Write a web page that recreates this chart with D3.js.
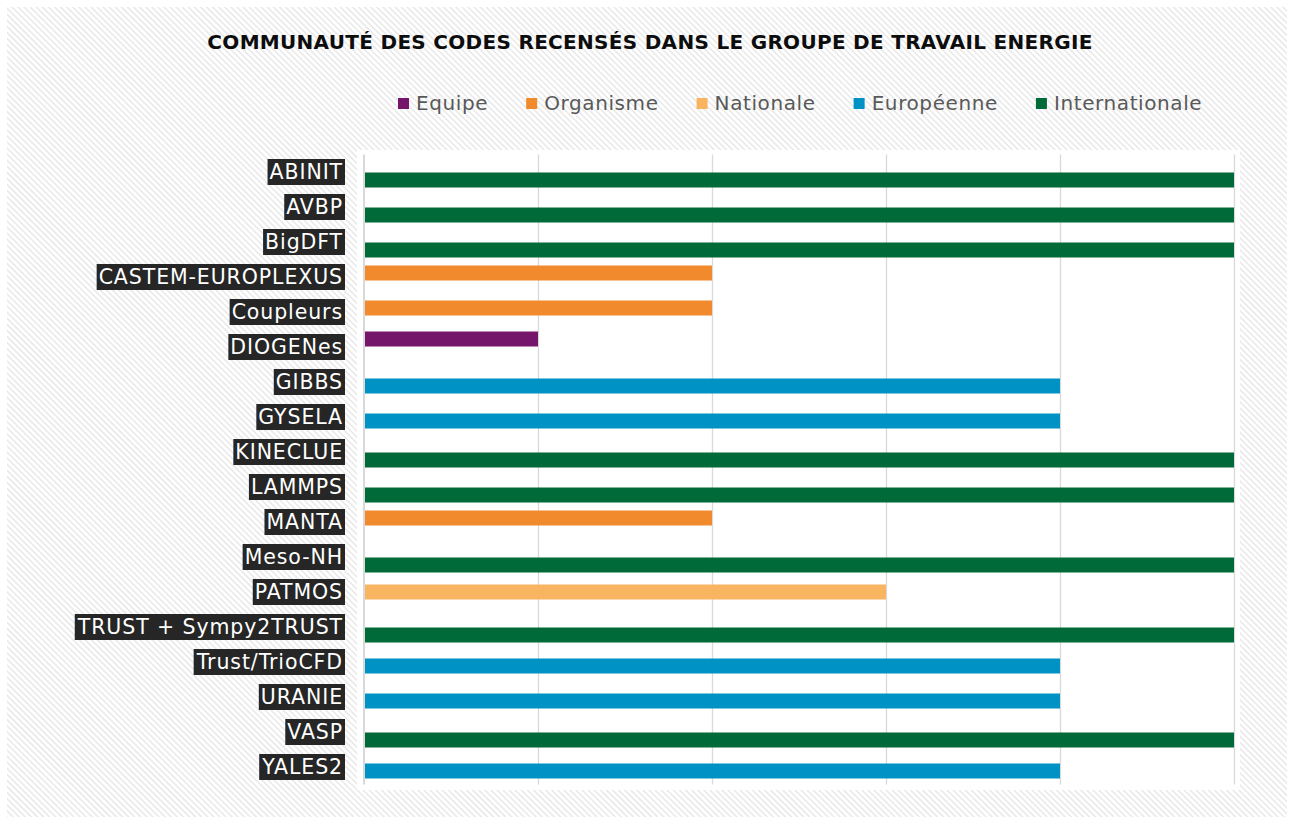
<!DOCTYPE html>
<html lang="fr">
<head>
<meta charset="UTF-8">
<title>Communauté des codes - Energie</title>
<script src="https://d3js.org/d3.v7.min.js"></script>
<style>
  body { margin: 0; background: #fff; }
  svg { display: block; font-family: "DejaVu Sans", sans-serif; }
</style>
</head>
<body>
<svg id="chart" width="1289" height="819"></svg>
<script>
// categories (top to bottom)
const categories = ["ABINIT", "AVBP", "BigDFT", "CASTEM-EUROPLEXUS", "Coupleurs", "DIOGENes",
  "GIBBS", "GYSELA", "KINECLUE", "LAMMPS", "MANTA", "Meso-NH", "PATMOS",
  "TRUST + Sympy2TRUST", "Trust/TrioCFD", "URANIE", "VASP", "YALES2"];

const seriesNames = ["Equipe", "Organisme", "Nationale", "Européenne", "Internationale"];
const seriesColors = ["#76166a", "#f08a2c", "#f9b461", "#0091c5", "#006a39"];

// one value per category in each series
const equipe         = [0,0,0,0,0,1,0,0,0,0,0,0,0,0,0,0,0,0];
const organisme      = [0,0,0,2,2,0,0,0,0,0,2,0,0,0,0,0,0,0];
const nationale      = [0,0,0,0,0,0,0,0,0,0,0,0,3,0,0,0,0,0];
const europeenne     = [0,0,0,0,0,0,4,4,0,0,0,0,0,0,4,4,0,4];
const internationale = [5,5,5,0,0,0,0,0,5,5,0,5,0,5,0,0,5,0];

const xTicks = [0, 1, 2, 3, 4, 5];
const title = "COMMUNAUTÉ DES CODES RECENSÉS DANS LE GROUPE DE TRAVAIL ENERGIE";

const seriesValues = [equipe, organisme, nationale, europeenne, internationale];
const bars = [];
seriesNames.forEach((s, j) => {
  seriesValues[j].forEach((v, i) => {
    if (v > 0) bars.push({ cat: categories[i], series: s, value: v, color: seriesColors[j] });
  });
});

const svg = d3.select("#chart");
const W = 1289, H = 819;

// hatched background
const defs = svg.append("defs");
const pat = defs.append("pattern")
  .attr("id", "hatch")
  .attr("width", 4.3).attr("height", 4.3)
  .attr("patternUnits", "userSpaceOnUse")
  .attr("patternTransform", "rotate(45)");
pat.append("rect").attr("width", 4.3).attr("height", 4.3).attr("fill", "#ffffff");
pat.append("rect").attr("width", 4.3).attr("height", 1.6).attr("fill", "#e9e9e9");

svg.append("rect").attr("width", W).attr("height", H).attr("fill", "#fff");
svg.append("rect")
  .attr("x", 7).attr("y", 7).attr("width", W - 9).attr("height", H - 9)
  .attr("fill", "url(#hatch)");

// plot area
const plot = { left: 364, right: 1234, top: 154.5, bottom: 784.5 };
svg.append("rect")
  .attr("x", 357).attr("y", 150)
  .attr("width", 1240 - 357).attr("height", 790 - 150)
  .attr("fill", "#fff");

const x = d3.scaleLinear().domain([0, 5]).range([plot.left, plot.right]);
const y = d3.scaleBand().domain(categories).range([plot.top, plot.bottom]).padding(0);
const ySeries = d3.scalePoint().domain(seriesNames).range([-8, 8]);
const barH = 15;

// gridlines
svg.append("g")
  .attr("transform", `translate(0,${plot.bottom})`)
  .call(d3.axisBottom(x).tickValues(xTicks.slice(1)).tickSize(-(plot.bottom - plot.top)).tickFormat(""))
  .call(g => g.select(".domain").remove())
  .call(g => g.selectAll(".tick line").attr("stroke", "#d9d9d9").attr("stroke-width", 1.3));

// bars
svg.append("g").selectAll("rect")
  .data(bars)
  .join("rect")
  .attr("x", x(0))
  .attr("y", d => y(d.cat) + y.bandwidth() / 2 + ySeries(d.series) - barH / 2)
  .attr("width", d => x(d.value) - x(0))
  .attr("height", barH)
  .attr("fill", d => d.color);

// vertical axis line
svg.append("line")
  .attr("x1", x(0)).attr("x2", x(0))
  .attr("y1", plot.top).attr("y2", plot.bottom)
  .attr("stroke", "#d9d9d9").attr("stroke-width", 2);

// category labels on dark boxes
const labels = svg.append("g").selectAll("g")
  .data(categories)
  .join("g")
  .attr("transform", d => `translate(343,${y(d) + y.bandwidth() / 2})`);
labels.append("rect").attr("fill", "#262626");
labels.append("text")
  .attr("text-anchor", "end")
  .attr("dy", "0.36em")
  .attr("font-size", 20.5)
  .attr("letter-spacing", 0.9)
  .attr("fill", "#ffffff")
  .text(d => d);
labels.each(function() {
  const g = d3.select(this);
  const b = g.select("text").node().getBBox();
  g.select("rect")
    .attr("x", b.x - 2).attr("width", b.width + 4)
    .attr("y", -13).attr("height", 26);
});

// title
svg.append("text")
  .attr("x", 650).attr("y", 49)
  .attr("text-anchor", "middle")
  .attr("font-size", 20)
  .attr("letter-spacing", 0.3)
  .attr("font-weight", "bold")
  .attr("fill", "#0d0d0d")
  .text(title);

// legend
const legend = svg.append("g");
let lx = 398;
seriesNames.forEach((s, j) => {
  legend.append("rect")
    .attr("x", lx).attr("y", 98)
    .attr("width", 11).attr("height", 11)
    .attr("fill", seriesColors[j]);
  const t = legend.append("text")
    .attr("x", lx + 18).attr("y", 110)
    .attr("font-size", 20)
    .attr("letter-spacing", 0.6)
    .attr("fill", "#595959")
    .text(s);
  lx = lx + 18 + t.node().getComputedTextLength() + 38;
});
</script>
</body>
</html>
